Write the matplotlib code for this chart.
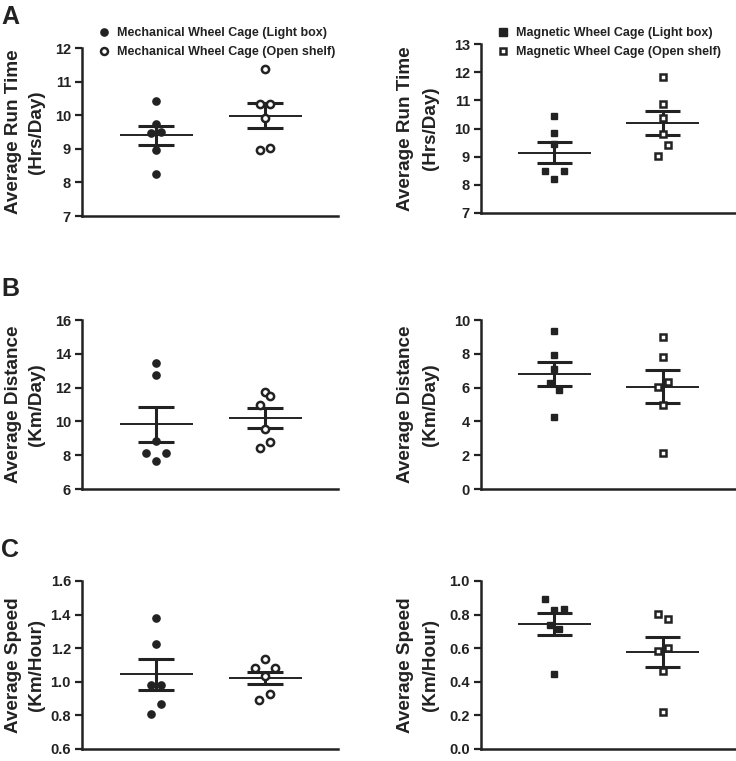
"""Wheel cage comparison: run time, distance and speed (mean +/- SEM)."""

import matplotlib
matplotlib.use('Agg')
import matplotlib.pyplot as plt
from matplotlib.lines import Line2D

plt.rcParams['font.family'] = ['Liberation Sans', 'DejaVu Sans']
plt.rcParams['font.weight'] = 'bold'

INK = '#222222'

# --- data ---
# 每组 6 只动物; dx 为散点横向抖动（单位: 抖动步长）
runtime_mech_light = [10.41, 9.74, 9.47, 9.49, 8.97, 8.25]
runtime_mech_light_dx = [0, 0, -1, 1, 0, 0]
runtime_mech_open = [11.37, 10.34, 10.34, 9.92, 8.95, 9.03]
runtime_mech_open_dx = [0, -1, 1, 0, -1, 1]
runtime_mag_light = [10.43, 9.85, 9.46, 8.48, 8.48, 8.20]
runtime_mag_light_dx = [0, 0, 0, -2, 2, 0]
runtime_mag_open = [11.84, 10.86, 10.36, 9.79, 9.41, 9.03]
runtime_mag_open_dx = [0, 0, 0, 0, 1, -1]

distance_mech_light = [13.45, 12.72, 8.85, 8.13, 8.13, 7.65]
distance_mech_light_dx = [0, 0, 0, -2, 2, 0]
distance_mech_open = [11.75, 11.50, 10.95, 9.56, 8.43, 8.79]
distance_mech_open_dx = [0, 1, -1, 0, -1, 1]
distance_mag_light = [9.35, 7.91, 7.08, 6.29, 5.87, 4.25]
distance_mag_light_dx = [0, 0, 0, -1, 1, 0]
distance_mag_open = [8.97, 7.83, 6.01, 6.31, 5.00, 2.13]
distance_mag_open_dx = [0, 0, -1, 1, 0, 0]

speed_mech_light = [1.38, 1.227, 0.983, 0.98, 0.866, 0.81]
speed_mech_light_dx = [0, 0, -1, 1, 1, -1]
speed_mech_open = [1.133, 1.081, 1.085, 1.037, 0.893, 0.926]
speed_mech_open_dx = [0, -2, 2, 0, -1.2, 1]
speed_mag_light = [0.891, 0.83, 0.836, 0.739, 0.715, 0.448]
speed_mag_light_dx = [-2, 0, 2, -1, 1, 0]
speed_mag_open = [0.806, 0.776, 0.586, 0.60, 0.463, 0.22]
speed_mag_open_dx = [-1, 1, -1, 1, 0, 0]

# mean and SEM as drawn (light box, open shelf)
runtime_mech_mean = [9.40, 9.98]
runtime_mech_sem = [0.29, 0.37]
runtime_mag_mean = [9.14, 10.20]
runtime_mag_sem = [0.38, 0.42]
distance_mech_mean = [9.83, 10.20]
distance_mech_sem = [1.05, 0.59]
distance_mag_mean = [6.78, 6.05]
distance_mag_sem = [0.71, 0.98]
speed_mech_mean = [1.045, 1.023]
speed_mech_sem = [0.091, 0.037]
speed_mag_mean = [0.743, 0.576]
speed_mag_sem = [0.066, 0.089]

JITTER = 0.046

# 轴位置 (像素): left, top, right, bottom
W, H = 736, 761
PANELS = [
    # letter, marker, light, light_dx, open, open_dx, mean, sem, ylim, step, fmt, ylabel line1, line2, box
    ('A', 'o', runtime_mech_light, runtime_mech_light_dx, runtime_mech_open, runtime_mech_open_dx,
     runtime_mech_mean, runtime_mech_sem, (7, 12), 1, '{:.0f}', 'Average Run Time', '(Hrs/Day)', (82, 48, 338, 216)),
    (None, 's', runtime_mag_light, runtime_mag_light_dx, runtime_mag_open, runtime_mag_open_dx,
     runtime_mag_mean, runtime_mag_sem, (7, 13), 1, '{:.0f}', 'Average Run Time', '(Hrs/Day)', (481, 44, 735, 213)),
    ('B', 'o', distance_mech_light, distance_mech_light_dx, distance_mech_open, distance_mech_open_dx,
     distance_mech_mean, distance_mech_sem, (6, 16), 2, '{:.0f}', 'Average Distance', '(Km/Day)', (82, 320, 338, 489)),
    (None, 's', distance_mag_light, distance_mag_light_dx, distance_mag_open, distance_mag_open_dx,
     distance_mag_mean, distance_mag_sem, (0, 10), 2, '{:.0f}', 'Average Distance', '(Km/Day)', (481, 320, 735, 489)),
    ('C', 'o', speed_mech_light, speed_mech_light_dx, speed_mech_open, speed_mech_open_dx,
     speed_mech_mean, speed_mech_sem, (0.6, 1.6), 0.2, '{:.1f}', 'Average Speed', '(Km/Hour)', (82, 581, 338, 749)),
    (None, 's', speed_mag_light, speed_mag_light_dx, speed_mag_open, speed_mag_open_dx,
     speed_mag_mean, speed_mag_sem, (0.0, 1.0), 0.2, '{:.1f}', 'Average Speed', '(Km/Hour)', (481, 581, 735, 749)),
]


def draw_panel(fig, spec):
    (letter, marker, light, light_dx, opn, opn_dx, mean, sem,
     ylim, step, fmt, lab1, lab2, box) = spec
    x0, y0, x1, y1 = box
    ax = fig.add_axes([x0 / W, 1 - y1 / H, (x1 - x0) / W, (y1 - y0) / H])

    ms = 5.2 if marker == 'o' else 5.0
    ax.plot([1 + d * JITTER for d in light_dx], light, linestyle='none', marker=marker,
            ms=ms, mfc=INK, mec=INK, clip_on=False, zorder=3)
    ax.plot([2 + d * JITTER for d in opn_dx], opn, linestyle='none', marker=marker,
            ms=ms, mfc='white', mec=INK, mew=1.8, clip_on=False, zorder=3)

    for i, (m, s) in enumerate(zip(mean, sem)):
        pos = i + 1
        ax.hlines(m, pos - 0.335, pos + 0.335, color=INK, lw=1.4, zorder=2)
        ax.vlines(pos, m - s, m + s, color=INK, lw=2.2, zorder=2)
        ax.hlines([m - s, m + s], pos - 0.165, pos + 0.165, color=INK, lw=2.2, zorder=2)

    ax.set_xlim(0.32, 2.67)
    ax.set_ylim(*ylim)
    n = int(round((ylim[1] - ylim[0]) / step))
    ticks = [ylim[0] + k * step for k in range(n + 1)]
    ax.set_yticks(ticks)
    ax.set_yticklabels([fmt.format(t) for t in ticks], fontsize=10.5, fontweight='bold', color=INK)
    ax.set_xticks([])
    for side in ('top', 'right'):
        ax.spines[side].set_visible(False)
    for side in ('left', 'bottom'):
        ax.spines[side].set_linewidth(1.8)
        ax.spines[side].set_color(INK)
    ax.tick_params(axis='y', length=5, width=1.6, color=INK, pad=3)
    ax.patch.set_alpha(0)

    # two-line y label; right-hand panels sit a little further out
    off1, off2 = (68, 46) if letter else (76, 51)
    ymid = 1 - (y0 + y1) / 2 / H
    fig.text((x0 - off1) / W, ymid, lab1, rotation=90, ha='center', va='center',
             fontsize=13.6, fontweight='bold', color=INK)
    fig.text((x0 - off2) / W, ymid, lab2, rotation=90, ha='center', va='center',
             fontsize=13.6, fontweight='bold', color=INK)

    if letter:
        fig.text(1 / W, 1 - (y0 - 31) / H, letter, ha='left', va='center',
                 fontsize=18, fontweight='bold', color=INK)
    return ax


def main():
    fig = plt.figure(figsize=(W / 100, H / 100), dpi=100)
    axes = [draw_panel(fig, spec) for spec in PANELS]

    legends = [
        (axes[0], 'o', 'Mechanical Wheel Cage', 98),
        (axes[1], 's', 'Magnetic Wheel Cage', 497),
    ]
    for ax, marker, name, lx in legends:
        handles = [
            Line2D([], [], linestyle='none', marker=marker, ms=5.2, mfc=INK, mec=INK),
            Line2D([], [], linestyle='none', marker=marker, ms=5.0, mfc='white', mec=INK, mew=1.8),
        ]
        labels = [f'{name} (Light box)', f'{name} (Open shelf)']
        ax.legend(handles, labels, loc='upper left', bbox_to_anchor=(lx / W, 1 - 27 / H),
                  bbox_transform=fig.transFigure, frameon=False, handlelength=1.0,
                  handletextpad=0.5, labelspacing=0.6, borderpad=0, borderaxespad=0,
                  prop={'size': 9, 'weight': 'bold'}, labelcolor=INK)

    fig.savefig('out.png', dpi=100)


if __name__ == '__main__':
    main()
